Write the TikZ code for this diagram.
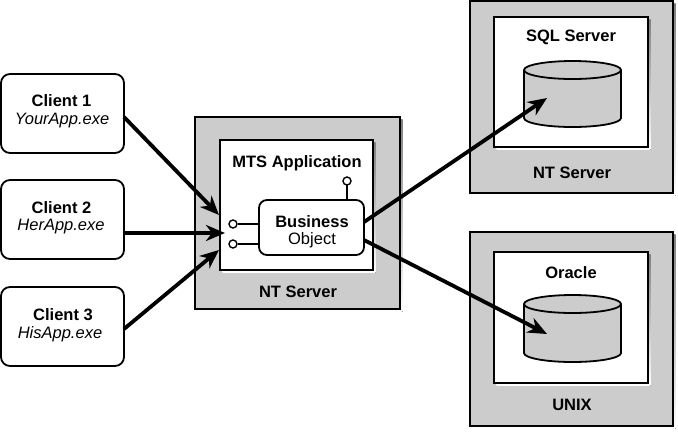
\documentclass[tikz,border=0pt]{standalone}
\usepackage{fontspec}
\setmainfont{Liberation Sans}
\usetikzlibrary{arrows.meta}
\definecolor{panel}{gray}{0.8}
\definecolor{shade}{gray}{0.55}
\tikzset{
  x=1pt,y=-1pt,
  lbl/.style={inner sep=0pt,font=\fontsize{16.5}{18}\selectfont\bfseries},
  sublbl/.style={inner sep=0pt,font=\fontsize{16.5}{18}\selectfont\itshape},
  panelbox/.style={draw=black,line width=1.8pt,fill=panel,inner sep=0pt},
  whitebox/.style={draw=black,line width=1.8pt,fill=white,inner sep=0pt},
  clientbox/.style={draw=black,line width=1.8pt,fill=white,rounded corners=9pt},
  objbox/.style={draw=black,line width=1.8pt,fill=white,rounded corners=8pt},
  flow/.style={line width=3.8pt,draw=black,-{Stealth[length=19pt,width=16pt,inset=6pt]}},
  pin/.style={draw=black,line width=1.4pt,fill=white},
  wire/.style={draw=black,line width=1.4pt},
  cyl/.style={draw=black,line width=1.8pt,fill=panel},
}
\newcommand{\shadowbox}[5]{%
  \fill[shade] (#1+2.5,#2+2.5) rectangle (#3+2.5,#4+2.5);
  \draw[#5] (#1,#2) rectangle (#3,#4);
}
\newcommand{\dbcyl}[5]{%
  % x1 x2 top-centre-y bottom-centre-y name
  \draw[cyl] (#1,#3) -- (#1,#4) arc[start angle=180,end angle=0,x radius={(#2-#1)/2},y radius=9] -- (#2,#3) arc[start angle=0,end angle=-180,x radius={(#2-#1)/2},y radius=9] -- cycle;
  \draw[cyl,fill=none] (#1,#3) arc[start angle=180,end angle=0,x radius={(#2-#1)/2},y radius=9];
  \coordinate (#5) at ({(#1+#2)/2-26},#3+29);
}
\begin{document}
\begin{tikzpicture}
\useasboundingbox (0,0) rectangle (678,432);
\fill[white] (0,0) rectangle (678,432);
% clients
\draw[clientbox] (1,74) rectangle (124,153);
\draw[clientbox] (1,180) rectangle (124,259);
\draw[clientbox] (1,287) rectangle (124,366);
\coordinate (c1) at (124,117);
\coordinate (c2) at (124,233);
\coordinate (c3) at (124,329);
\node[lbl] (c1t) at (61.5,101) {Client 1};
\node[sublbl] (c1s) at (62,121) {YourApp.exe};
\node[lbl] (c2t) at (61.5,208) {Client 2};
\node[sublbl] (c2s) at (61,227) {HerApp.exe};
\node[lbl] (c3t) at (63,315) {Client 3};
\node[sublbl] (c3s) at (60,334) {HisApp.exe};
% NT server
\shadowbox{195}{117}{400}{309}{panelbox}
\shadowbox{220}{140}{373}{270}{whitebox}
\node[lbl] (ntl) at (298,292) {NT Server};
\node[lbl] (mts) at (297,163) {MTS Application};
% pins
\draw[wire] (347,185) -- (347,200);
\draw[wire] (238,224) -- (259,224);
\draw[wire] (238,244) -- (259,244);
\draw[pin] (347,181) circle[radius=4];
\draw[pin] (233,224) circle[radius=4];
\draw[pin] (233,244) circle[radius=4];
\draw[objbox] (259,200) rectangle (364,255);
\node[lbl] (bo1) at (312,222) {Business};
\node[inner sep=0pt,font=\fontsize{16.5}{18}\selectfont] (bo2) at (312,240) {Object};
\coordinate (oR1) at (364,222);
\coordinate (oR2) at (364,240);
% SQL
\shadowbox{470}{1}{673}{193}{panelbox}
\shadowbox{494}{17}{648}{147}{whitebox}
\node[lbl] (sql) at (571,37) {SQL Server};
\node[lbl] (nt2) at (572,173) {NT Server};
\dbcyl{524}{621}{70}{118}{db1}
% Oracle
\shadowbox{470}{232}{673}{426}{panelbox}
\shadowbox{494}{252}{648}{383}{whitebox}
\node[lbl] (ora) at (571,273) {Oracle};
\node[lbl] (unx) at (572,405) {UNIX};
\dbcyl{524}{621}{304}{353}{db2}
% arrows
\coordinate (a1) at (219,215);
\coordinate (a2) at (225,233);
\coordinate (a3) at (219,250);
\coordinate (d1) at (547,98);
\coordinate (d2) at (547,334);
\draw[flow] (c1) -- (a1);
\draw[flow] (c2) -- (a2);
\draw[flow] (c3) -- (a3);
\draw[flow] (oR1) -- (d1);
\draw[flow] (oR2) -- (d2);
\end{tikzpicture}
\end{document}
